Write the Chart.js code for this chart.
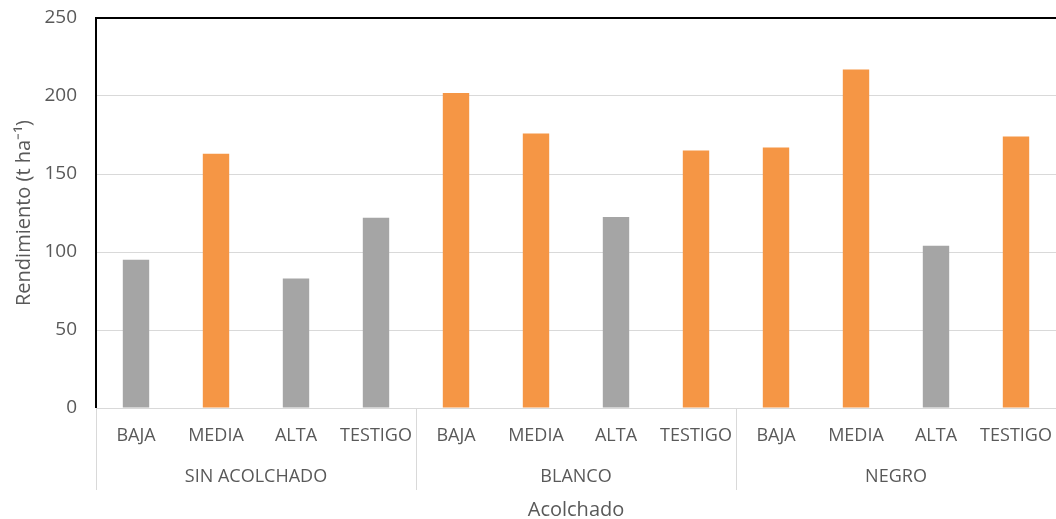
<!DOCTYPE html>
<html>
<head>
<meta charset="utf-8">
<script src="https://cdn.jsdelivr.net/npm/chart.js@4"></script>
<style>
  html, body { margin: 0; padding: 0; background: #fff; }
  #wrap { width: 1056px; height: 519px; position: relative; }
</style>
</head>
<body>
<div id="wrap"><canvas id="chart"></canvas></div>
<script>
const groups = ["SIN ACOLCHADO", "BLANCO", "NEGRO"];
const levels = ["BAJA", "MEDIA", "ALTA", "TESTIGO"];
const rendimiento = [95, 163, 83, 122, 202, 176, 122.5, 165, 167, 217, 104, 174];
// true = orange bar, false = gray bar
const highlighted = [false, true, false, false, true, true, false, true, true, true, false, true];

const labels = [];
groups.forEach(() => levels.forEach((l) => labels.push(l)));

const GRAY = "#a5a5a5";
const ORANGE = "#f59645";
const TEXT = "#595959";
const FONT = "'Open Sans', sans-serif";

const groupPlugin = {
  id: "groupLabels",
  afterDraw(chart) {
    const ctx = chart.ctx;
    const area = chart.chartArea;
    const x = chart.scales.x;
    const n = levels.length;
    ctx.save();
    ctx.strokeStyle = "#d9d9d9";
    ctx.lineWidth = 1;
    // separators between groups
    for (let g = 0; g <= groups.length; g++) {
      const idx = g * n;
      let px;
      if (idx === 0) px = area.left;
      else if (idx >= labels.length) px = area.right;
      else px = (x.getPixelForValue(idx - 1) + x.getPixelForValue(idx)) / 2;
      ctx.beginPath();
      ctx.moveTo(Math.round(px) + 0.5, area.bottom);
      ctx.lineTo(Math.round(px) + 0.5, area.bottom + 82);
      ctx.stroke();
    }
    ctx.fillStyle = TEXT;
    ctx.font = "18px " + FONT;
    ctx.textAlign = "center";
    ctx.textBaseline = "middle";
    groups.forEach((name, g) => {
      const a = x.getPixelForValue(g * n);
      const b = x.getPixelForValue(g * n + n - 1);
      ctx.fillText(name, (a + b) / 2, area.bottom + 69);
    });
    // black top border and left axis line
    ctx.strokeStyle = "#000";
    ctx.lineWidth = 2;
    ctx.beginPath();
    ctx.moveTo(area.left, area.bottom);
    ctx.lineTo(area.left, area.top);
    ctx.lineTo(area.right, area.top);
    ctx.stroke();
    ctx.restore();
  }
};

new Chart(document.getElementById("chart"), {
  type: "bar",
  data: {
    labels,
    datasets: [{
      label: "Rendimiento",
      data: rendimiento,
      backgroundColor: highlighted.map((h) => (h ? ORANGE : GRAY)),
      categoryPercentage: 1,
      barPercentage: 0.33,
    }],
  },
  options: {
    responsive: true,
    maintainAspectRatio: false,
    animation: false,
    layout: { padding: { top: 18, right: 0, bottom: 0, left: 0 } },
    plugins: {
      legend: { display: false },
      tooltip: { enabled: false },
    },
    scales: {
      x: {
        grid: { display: false, drawTicks: false },
        border: { display: true, color: "#d9d9d9" },
        ticks: { color: TEXT, font: { family: FONT, size: 18 }, padding: 17, maxRotation: 0, autoSkip: false },
        title: {
          display: true,
          text: "Acolchado",
          color: TEXT,
          font: { family: FONT, size: 20 },
          padding: { top: 0, bottom: -3 },
        },
        afterFit(s) {
          s.height = 111;
          s.paddingLeft = 0;
          s.paddingRight = 0;
        },
      },
      y: {
        min: 0,
        max: 250,
        ticks: { stepSize: 50, color: TEXT, font: { family: FONT, size: 19 }, padding: 19 },
        grid: { color: "#d9d9d9", drawTicks: false },
        border: { display: false },
        title: {
          display: true,
          text: "Rendimiento (t ha\u207B\u00B9)",
          color: TEXT,
          font: { family: FONT, size: 20 },
          padding: { top: 12, bottom: 0 },
        },
        afterFit(s) {
          s.width = 96;
          s.paddingTop = 0;
          s.paddingBottom = 0;
        },
      },
    },
  },
  plugins: [groupPlugin],
});
</script>
</body>
</html>
